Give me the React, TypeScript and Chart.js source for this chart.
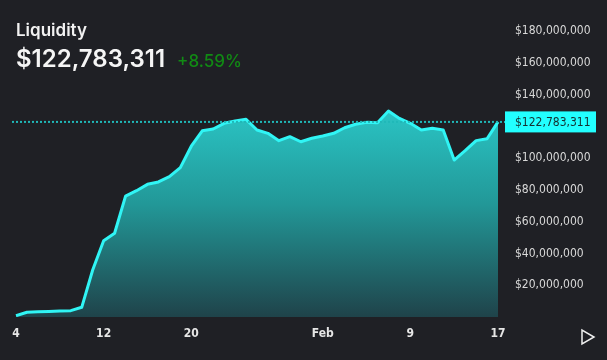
import React, { useEffect, useRef } from "react";
import { Chart, registerables } from "chart.js";

Chart.register(...registerables);

const dayLabels: string[] = [
  "4", "5", "6", "7", "8", "9", "10", "11", "12", "13", "14", "15", "16", "17", "18", "19",
  "20", "21", "22", "23", "24", "25", "26", "27", "28", "29", "30", "31",
  "Feb", "2", "3", "4", "5", "6", "7", "8", "9", "10", "11", "12", "13", "14", "15", "16", "17",
];

const liquidity: number[] = [
  800000, 3000000, 3300000, 3500000, 3800000, 4000000, 6100000, 29600000, 48000000, 52700000,
  76100000, 79500000, 83500000, 85000000, 88300000, 94000000, 107500000, 117200000, 118300000,
  121900000, 123300000, 124400000, 117700000, 115600000, 111000000, 113500000, 110300000,
  112500000, 113900000, 115600000, 119100000, 121300000, 122500000, 122300000, 129600000,
  125000000, 121900000, 117700000, 118800000, 117700000, 98800000, 104700000, 111000000,
  112200000, 122783311,
];

const shownTicks: number[] = [0, 8, 16, 28, 36, 44];
const yTickValues: number[] = [20e6, 40e6, 60e6, 80e6, 100e6, 120e6, 140e6, 160e6, 180e6];

const title = "Liquidity";
const currentValue = "$122,783,311";
const change = "+8.59%";

const axisFont = "'DejaVu Sans Condensed', 'DejaVu Sans', sans-serif";

function fmt(v: number): string {
  return "$" + Math.round(v).toLocaleString("en-US");
}

export default function App() {
  const ref = useRef<HTMLCanvasElement | null>(null);

  useEffect(() => {
    if (!ref.current) return;
    const last = liquidity[liquidity.length - 1];

    const tagPlugin = {
      id: "priceTag",
      afterDatasetsDraw(chart: any) {
        const ctx = chart.ctx;
        const y = chart.scales.y.getPixelForValue(last);
        const right = chart.chartArea.right;
        ctx.save();
        ctx.strokeStyle = "#20b8b8";
        ctx.lineWidth = 2;
        ctx.setLineDash([2, 2]);
        ctx.beginPath();
        ctx.moveTo(12, y);
        ctx.lineTo(right + 7, y);
        ctx.stroke();
        ctx.setLineDash([]);
        ctx.fillStyle = "#22ffff";
        ctx.fillRect(right + 7, y - 10.5, 91, 21);
        ctx.fillStyle = "#163030";
        ctx.font = "12px " + axisFont;
        ctx.textAlign = "left";
        ctx.textBaseline = "middle";
        ctx.fillText(fmt(last), right + 17, y + 0.5);
        ctx.restore();
      },
    };

    const chart = new Chart(ref.current, {
      type: "line",
      data: {
        labels: dayLabels,
        datasets: [
          {
            data: liquidity,
            borderColor: "#30f5f5",
            borderWidth: 3,
            pointRadius: 0,
            tension: 0,
            borderJoinStyle: "round",
            fill: "start",
            backgroundColor: (c: any) => {
              const area = c.chart.chartArea;
              if (!area) return "rgba(40,190,190,0.8)";
              const g = c.chart.ctx.createLinearGradient(0, area.top + 80, 0, area.bottom);
              g.addColorStop(0, "#2ac4c4");
              g.addColorStop(0.45, "#229898");
              g.addColorStop(1, "#1f434a");
              return g;
            },
          },
        ],
      },
      options: {
        responsive: false,
        animation: false,
        layout: { padding: { left: 16, top: 31, right: 0, bottom: 0 } },
        plugins: { legend: { display: false }, tooltip: { enabled: false } },
        scales: {
          x: {
            type: "category",
            offset: false,
            grid: { display: false, drawTicks: false },
            border: { display: false },
            afterFit: (s: any) => {
              s.height = 43;
              s.paddingLeft = 0;
              s.paddingRight = 0;
            },
            ticks: {
              autoSkip: false,
              maxRotation: 0,
              padding: 10,
              color: "#e6e6e6",
              font: { family: axisFont, size: 12, weight: "bold" },
              callback: function (this: any, value: any, index: number) {
                return shownTicks.includes(index) ? dayLabels[index] : null;
              },
            },
          },
          y: {
            position: "right",
            min: 0,
            max: 180e6,
            grid: { display: false, drawTicks: false },
            border: { display: false },
            afterFit: (s: any) => {
              s.width = 109;
            },
            afterBuildTicks: (s: any) => {
              s.ticks = yTickValues.map((v) => ({ value: v }));
            },
            ticks: {
              padding: 17,
              color: "#d8d8d8",
              font: { family: axisFont, size: 12 },
              callback: (v: any) => fmt(Number(v)),
            },
          },
        },
      },
      plugins: [tagPlugin],
    } as any);

    return () => chart.destroy();
  }, []);

  return (
    <div
      style={{
        position: "fixed",
        left: 0,
        top: 0,
        width: 607,
        height: 360,
        background: "#1f2025",
        overflow: "hidden",
      }}
    >
      <canvas ref={ref} width={607} height={360} style={{ position: "absolute", left: 0, top: 0 }} />
      <div
        style={{
          position: "absolute",
          left: 16,
          top: 22,
          fontFamily: "Inter, sans-serif",
          fontSize: 17,
          fontWeight: 600,
          lineHeight: 1,
          color: "#f2f2f2",
        }}
      >
        {title}
      </div>
      <div
        style={{
          position: "absolute",
          left: 16,
          top: 47,
          fontFamily: "Inter, sans-serif",
          lineHeight: 1,
          whiteSpace: "nowrap",
        }}
      >
        <span style={{ fontSize: 24, fontWeight: 600, color: "#f5f5f5" }}>{currentValue}</span>
        <span style={{ fontSize: 17, fontWeight: 500, color: "#118a14", marginLeft: 12 }}>{change}</span>
      </div>
      <svg
        width={20}
        height={20}
        style={{ position: "absolute", left: 578, top: 327 }}
      >
        <path d="M4 3 L4 17 L16 10 Z" fill="none" stroke="#f0f0f0" strokeWidth={1.5} strokeLinejoin="miter" />
      </svg>
    </div>
  );
}
